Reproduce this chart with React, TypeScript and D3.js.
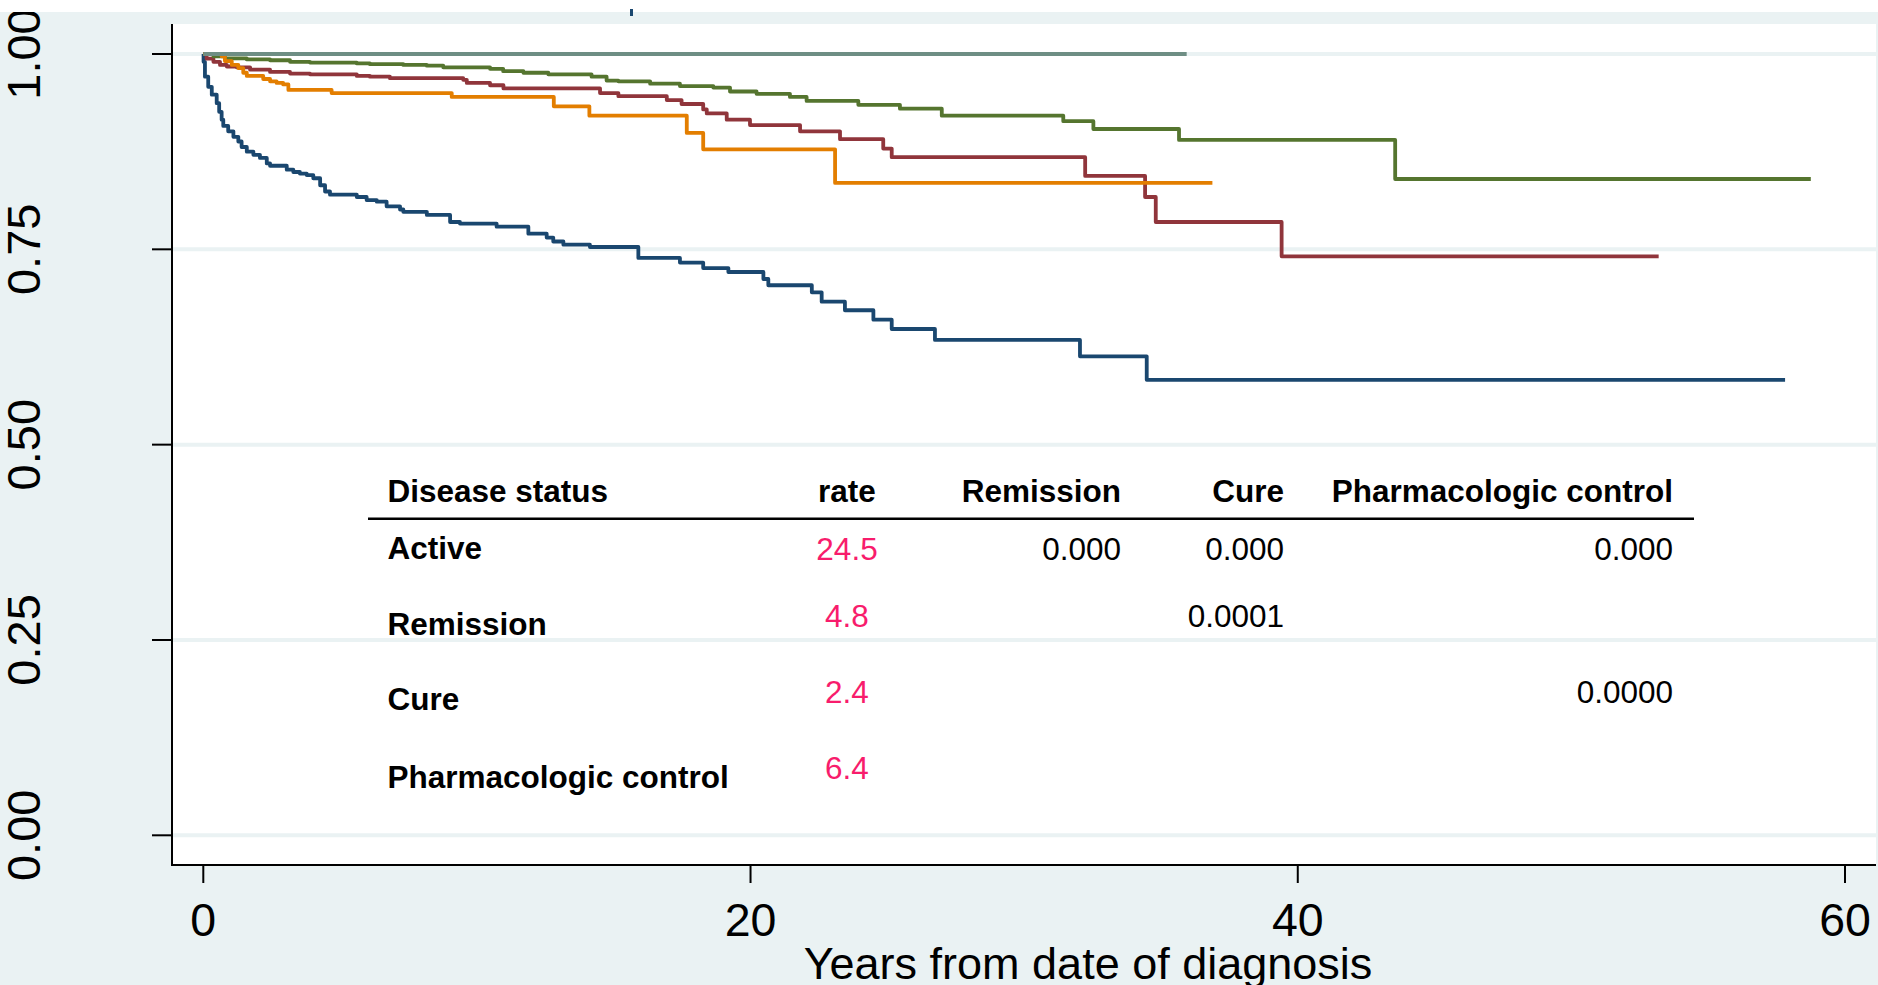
import React, { useEffect } from 'react';
import * as d3 from 'd3';

// survival estimates: [years, survival]
const active: [number, number][] = [
  [0, 1], [0.01, 0.99], [0.06, 0.971], [0.18, 0.958], [0.31, 0.948], [0.49, 0.937],
  [0.58, 0.926], [0.67, 0.916], [0.73, 0.908], [0.91, 0.901], [1.1, 0.894], [1.28, 0.888],
  [1.4, 0.881], [1.59, 0.875], [1.83, 0.871], [2.07, 0.867], [2.32, 0.86], [2.44, 0.857],
  [3.05, 0.852], [3.29, 0.849], [3.53, 0.847], [3.78, 0.845], [4.02, 0.841], [4.27, 0.832],
  [4.45, 0.824], [4.63, 0.82], [5.61, 0.817], [5.97, 0.813], [6.34, 0.811], [6.7, 0.805],
  [7.19, 0.801], [7.31, 0.798], [8.17, 0.794], [9.02, 0.785], [9.38, 0.783], [10.72, 0.779],
  [11.88, 0.77], [12.55, 0.765], [12.79, 0.76], [13.16, 0.756], [14.13, 0.753], [15.9, 0.739],
  [17.42, 0.733], [18.27, 0.726], [19.19, 0.721], [20.47, 0.712], [20.65, 0.704], [22.24, 0.695],
  [22.6, 0.683], [23.45, 0.672], [24.49, 0.66], [25.16, 0.648], [26.74, 0.634], [32.04, 0.613],
  [34.48, 0.583], [57.81, 0.583],
];

const remission: [number, number][] = [
  [0, 1], [0.12, 0.994], [0.37, 0.99], [0.61, 0.986], [0.86, 0.984], [1.22, 0.983],
  [1.71, 0.98], [2.44, 0.977], [3.17, 0.975], [3.9, 0.974], [5.61, 0.972], [6.09, 0.971],
  [6.82, 0.969], [9.5, 0.967], [9.63, 0.963], [10.48, 0.96], [10.97, 0.956], [14.5, 0.95],
  [15.17, 0.946], [16.94, 0.941], [17.48, 0.936], [18.27, 0.929], [18.4, 0.924], [19.13, 0.916],
  [19.98, 0.909], [21.81, 0.901], [23.27, 0.891], [24.85, 0.879], [25.16, 0.868], [32.23, 0.844],
  [34.42, 0.817], [34.81, 0.785], [39.41, 0.741], [53.19, 0.741],
];

const cure: [number, number][] = [
  [0, 1], [0.37, 0.997], [0.79, 0.9945], [1.59, 0.993], [2.44, 0.992], [3.17, 0.99],
  [3.9, 0.989], [5.61, 0.988], [6.09, 0.987], [7.31, 0.986], [8.17, 0.985], [8.77, 0.983],
  [10.48, 0.981], [10.96, 0.978], [11.7, 0.976], [12.61, 0.974], [14.19, 0.971], [14.74, 0.966],
  [15.17, 0.965], [16.33, 0.962], [17.42, 0.959], [18.64, 0.957], [19.25, 0.952], [20.22, 0.949],
  [21.44, 0.945], [22.05, 0.94], [23.94, 0.935], [25.46, 0.93], [26.99, 0.921], [31.43, 0.914],
  [32.53, 0.904], [35.66, 0.89], [43.56, 0.84], [58.75, 0.84],
];

const pharmControl: [number, number][] = [
  [0, 1], [0.67, 0.997], [0.79, 0.991], [1.04, 0.986], [1.28, 0.982], [1.46, 0.976],
  [1.59, 0.972], [2.19, 0.968], [2.44, 0.965], [2.68, 0.963], [2.92, 0.961], [3.11, 0.954],
  [4.69, 0.95], [9.08, 0.945], [12.81, 0.933], [14.11, 0.921], [17.67, 0.899], [18.27, 0.878],
  [23.09, 0.835], [36.88, 0.835],
];

const noEvents: [number, number][] = [[0, 1], [35.94, 1]];

const xTicks = [0, 20, 40, 60];
const yTicks = [0, 0.25, 0.5, 0.75, 1];
const yTickLabels = ['0.00', '0.25', '0.50', '0.75', '1.00'];

// table text
const tableHeader = ['Disease status', 'rate', 'Remission', 'Cure', 'Pharmacologic control'];
const rowLabels = ['Active', 'Remission', 'Cure', 'Pharmacologic control'];
const rates = ['24.5', '4.8', '2.4', '6.4'];
const pRemission = ['0.000', '', '', ''];
const pCure = ['0.000', '0.0001', '', ''];
const pPharm = ['0.000', '', '0.0000', ''];

const FONT = '"Liberation Sans", Arial, Helvetica, sans-serif';
const BG = '#eaf2f3';

export default function App() {
  useEffect(() => {
    document.body.style.margin = '0';
    document.body.style.overflow = 'hidden';
  }, []);

  const W = 1878;
  const H = 985;
  const plot = { left: 172, top: 24, right: 1876, bottom: 865 };

  const x = d3.scaleLinear().domain([0, 60]).range([203.3, 1845]);
  const y = d3.scaleLinear().domain([0, 1]).range([835.3, 54]);

  const line = d3
    .line<[number, number]>()
    .x((d) => x(d[0]))
    .y((d) => y(d[1]))
    .curve(d3.curveStepAfter);

  const series = [
    { data: active, color: '#1a476f' },
    { data: remission, color: '#90353b' },
    { data: cure, color: '#55752f' },
    { data: pharmControl, color: '#e37e00' },
    { data: noEvents, color: '#6e8e84' },
  ];

  // table layout
  const labelX = 387.5;
  const rateX = 847;
  const colRight = [1121, 1284, 1673];
  const headerY = 501.5;
  const labelY = [558.6, 635, 710, 788];
  const valueY = [560, 627, 703, 779];
  const tfs = 31.5;

  return (
    <svg width={W} height={H} style={{ display: 'block', position: 'absolute', left: 0, top: 0 }}>
      <rect x={0} y={0} width={W} height={H} fill={BG} />
      <rect
        x={plot.left}
        y={plot.top}
        width={plot.right - plot.left}
        height={plot.bottom - plot.top}
        fill="#ffffff"
      />
      {yTicks.map((t) => (
        <line
          key={'g' + t}
          x1={plot.left}
          x2={plot.right}
          y1={y(t)}
          y2={y(t)}
          stroke={BG}
          strokeWidth={4}
        />
      ))}

      {series.map((s, i) => (
        <path
          key={i}
          d={line(s.data) || ''}
          fill="none"
          stroke={s.color}
          strokeWidth={3.8}
          strokeLinejoin="round"
        />
      ))}

      {/* axes */}
      <line x1={plot.left} x2={plot.left} y1={plot.top} y2={plot.bottom + 1} stroke="#000" strokeWidth={2} />
      <line x1={plot.left} x2={plot.right} y1={plot.bottom} y2={plot.bottom} stroke="#000" strokeWidth={2} />
      {yTicks.map((t, i) => (
        <g key={'y' + t}>
          <line x1={152} x2={plot.left} y1={y(t)} y2={y(t)} stroke="#000" strokeWidth={2} />
          <text
            transform={`translate(40,${y(t)}) rotate(-90)`}
            textAnchor="middle"
            fontFamily={FONT}
            fontSize={47}
            fill="#000"
          >
            {yTickLabels[i]}
          </text>
        </g>
      ))}
      {xTicks.map((t) => (
        <g key={'x' + t}>
          <line x1={x(t)} x2={x(t)} y1={plot.bottom} y2={883} stroke="#000" strokeWidth={2} />
          <text x={x(t)} y={936} textAnchor="middle" fontFamily={FONT} fontSize={46.5} fill="#000">
            {t}
          </text>
        </g>
      ))}
      <text x={1088} y={979} textAnchor="middle" fontFamily={FONT} fontSize={45} fill="#000">
        Years from date of diagnosis
      </text>

      {/* table */}
      <g fontFamily={FONT} fontSize={tfs}>
        <text x={labelX} y={headerY} fontWeight="bold">{tableHeader[0]}</text>
        <text x={rateX} y={headerY} fontWeight="bold" textAnchor="middle">{tableHeader[1]}</text>
        {colRight.map((cx, j) => (
          <text key={'h' + j} x={cx} y={headerY} fontWeight="bold" textAnchor="end">
            {tableHeader[j + 2]}
          </text>
        ))}
        <line x1={368} x2={1694} y1={518.7} y2={518.7} stroke="#000" strokeWidth={2.4} />
        {rowLabels.map((lab, i) => (
          <g key={'r' + i}>
            <text x={labelX} y={labelY[i]} fontWeight="bold">{lab}</text>
            <text x={rateX} y={valueY[i]} textAnchor="middle" fill="#f81c6c">{rates[i]}</text>
            {[pRemission, pCure, pPharm].map((col, j) =>
              col[i] ? (
                <text key={j} x={colRight[j]} y={valueY[i]} textAnchor="end" fill="#000">
                  {col[i]}
                </text>
              ) : null
            )}
          </g>
        ))}
      </g>

      {/* cropped top edge of the original figure */}
      <rect x={0} y={0} width={W} height={12} fill="#ffffff" />
      <rect x={630} y={9} width={3} height={7} fill="#1a476f" />
    </svg>
  );
}
